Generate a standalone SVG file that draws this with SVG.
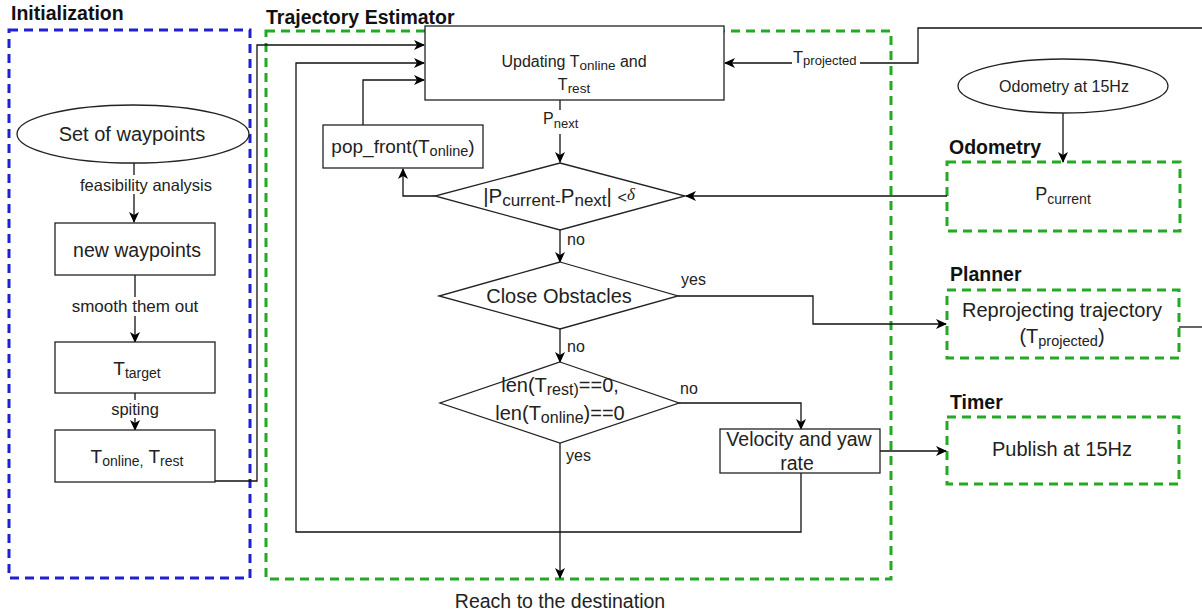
<svg xmlns="http://www.w3.org/2000/svg" width="1202" height="616" viewBox="0 0 1202 616">
<defs>
<marker id="arr" markerUnits="userSpaceOnUse" markerWidth="12" markerHeight="10" refX="10" refY="5" orient="auto">
<path d="M0,0 L11,5 L0,10 L3,5 z" fill="#000"/>
</marker>
<style>
.t{font-family:"Liberation Sans",Arial,sans-serif;fill:#222;}
.b{font-family:"Liberation Sans",Arial,sans-serif;font-weight:bold;fill:#111;font-size:19.5px;}
.box{fill:#fff;stroke:#222;stroke-width:1.3;}
.grp-blue{fill:none;stroke:#2020d0;stroke-width:3;stroke-dasharray:9 6;}
.grp-green{fill:none;stroke:#25a825;stroke-width:3;stroke-dasharray:9 6;}
.c{fill:none;stroke:#111;stroke-width:1.3;}
.ca{fill:none;stroke:#111;stroke-width:1.3;marker-end:url(#arr);}
.lbl{fill:#fff;}
</style>
</defs>
<rect width="1202" height="616" fill="#fff"/>

<g id="containers">
<rect class="grp-blue" x="9" y="30" width="241" height="548"/>
<text class="b" x="11" y="20">Initialization</text>
<rect class="grp-green" x="266" y="31" width="625" height="548"/>
<text class="b" x="266" y="24">Trajectory Estimator</text>
<rect class="grp-green" x="947" y="162" width="233" height="69"/>
<text class="b" x="949" y="154">Odometry</text>
<rect class="grp-green" x="947" y="290" width="232" height="68"/>
<text class="b" x="950" y="281">Planner</text>
<rect class="grp-green" x="947" y="417" width="232" height="67"/>
<text class="b" x="950" y="409">Timer</text>
</g>

<g id="connectors">
<path class="ca" d="M134,163 V222"/>
<path class="ca" d="M135,275 V342"/>
<path class="ca" d="M135,393 V430"/>
<path class="ca" d="M215,481 H257 V45 H424"/>
<path class="ca" d="M560,100 V162"/>
<path class="ca" d="M435,196 H403 V169"/>
<path class="ca" d="M560,230 V262"/>
<path class="ca" d="M678,296 H813 V324 H946"/>
<path class="ca" d="M560,329 V362"/>
<path class="ca" d="M679,403 H801 V429"/>
<path class="ca" d="M560,443 V578"/>
<path class="ca" d="M880,451 H946"/>
<path class="ca" d="M801,473 V532 H296 V63 H424"/>
<path class="ca" d="M363,125 V80 H424"/>
<path class="ca" d="M1063,113 V162"/>
<path class="ca" d="M947,196 H686"/>
<path class="ca" d="M1202,28 H918 V63 H725"/>
<path class="c" d="M1179,327 H1202"/>
<rect class="lbl" x="74" y="175" width="144" height="19"/>
<text class="t" x="146" y="191" font-size="16.5" text-anchor="middle">feasibility analysis</text>
<rect class="lbl" x="68" y="297" width="134" height="19"/>
<text class="t" x="135" y="312" font-size="17" text-anchor="middle">smooth them out</text>
<rect class="lbl" x="108" y="400" width="54" height="18" fill="#f4f4f4"/>
<text class="t" x="135" y="415" font-size="16.5" text-anchor="middle">spiting</text>
<rect class="lbl" x="540" y="110" width="42" height="24"/>
<text class="t" x="543" y="124" font-size="16">P<tspan dy="4" font-size="13">next</tspan></text>
<text class="t" x="567" y="245" font-size="16">no</text>
<text class="t" x="681" y="285" font-size="16">yes</text>
<text class="t" x="567" y="352" font-size="16">no</text>
<text class="t" x="680" y="394" font-size="16">no</text>
<text class="t" x="566" y="461" font-size="16">yes</text>
<rect class="lbl" x="792" y="47" width="68" height="22"/>
<text class="t" x="793" y="63" font-size="16.5">T<tspan dy="2" font-size="13">projected</tspan></text>
</g>

<g id="n-waypoints">
<ellipse cx="133" cy="134" rx="116" ry="29" fill="#fff" stroke="#222" stroke-width="1.3"/>
<text class="t" x="132" y="141" font-size="20" text-anchor="middle">Set of waypoints</text>
</g>
<g id="n-newwaypoints">
<rect class="box" x="55" y="223" width="160" height="52"/>
<text class="t" x="137" y="257" font-size="19.5" text-anchor="middle">new waypoints</text>
</g>
<g id="n-ttarget">
<rect class="box" x="55" y="342" width="160" height="51"/>
<text class="t" x="137" y="375" font-size="19" text-anchor="middle">T<tspan dy="3" font-size="14">target</tspan></text>
</g>
<g id="n-tonline">
<rect class="box" x="55" y="430" width="160" height="52"/>
<text class="t" x="137" y="463" font-size="19" text-anchor="middle">T<tspan dy="3" font-size="14">online,</tspan><tspan dy="-3">  T</tspan><tspan dy="3" font-size="14">rest</tspan></text>
</g>

<g id="n-updating">
<rect class="box" x="425" y="26" width="299" height="74"/>
<text class="t" x="574" y="67" font-size="16" text-anchor="middle">Updating T<tspan dy="3" font-size="13.5">online</tspan><tspan dy="-3">  and</tspan></text>
<text class="t" x="574" y="90" font-size="16" text-anchor="middle">T<tspan dy="3" font-size="13.5">rest</tspan></text>
</g>
<g id="n-popfront">
<rect class="box" x="323" y="125" width="160" height="43"/>
<text class="t" x="403" y="153" font-size="19" text-anchor="middle">pop_front(T<tspan dy="3" font-size="14.5">online</tspan><tspan dy="-3">)</tspan></text>
</g>
<g id="n-dist">
<polygon points="560,163 685,196 560,230 435,196" fill="#fff" stroke="#222" stroke-width="1.3"/>
<text class="t" x="559" y="203" font-size="20.5" text-anchor="middle">|P<tspan dy="3" font-size="17">current-</tspan><tspan dy="-3">P</tspan><tspan dy="3" font-size="17">next</tspan><tspan dy="-3">| </tspan><tspan font-size="16">&lt;</tspan><tspan font-family="Liberation Serif,serif" font-style="italic" font-size="17" dy="-3">δ</tspan></text>
</g>
<g id="n-obstacles">
<polygon points="560,262 678,296 560,329 439,296" fill="#fff" stroke="#222" stroke-width="1.3"/>
<text class="t" x="559" y="303" font-size="20" text-anchor="middle">Close Obstacles</text>
</g>
<g id="n-len">
<polygon points="560,362 679,403 560,443 440,403" fill="#fff" stroke="#222" stroke-width="1.3"/>
<text class="t" x="560" y="392" font-size="20" text-anchor="middle">len(T<tspan dy="3" font-size="16">rest)</tspan><tspan dy="-3">==0,</tspan></text>
<text class="t" x="560" y="420" font-size="20" text-anchor="middle">len(T<tspan dy="3" font-size="16">online</tspan><tspan dy="-3">)==0</tspan></text>
</g>
<g id="n-velocity">
<rect class="box" x="720" y="429" width="160" height="44"/>
<text class="t" x="799" y="446" font-size="19.5" text-anchor="middle">Velocity and yaw</text>
<text class="t" x="797" y="470" font-size="19.5" text-anchor="middle">rate</text>
</g>
<g id="n-reach">
<text class="t" x="560" y="608" font-size="19.5" text-anchor="middle">Reach to the destination</text>
</g>

<g id="n-odomsrc">
<ellipse cx="1063" cy="86" rx="105" ry="27" fill="#fff" stroke="#222" stroke-width="1.3"/>
<text class="t" x="1064" y="92" font-size="16" text-anchor="middle">Odometry at 15Hz</text>
</g>
<g id="n-pcurrent">
<text class="t" x="1063" y="200" font-size="18" text-anchor="middle">P<tspan dy="4" font-size="14">current</tspan></text>
</g>
<g id="n-planner">
<text class="t" x="1062" y="317" font-size="20" text-anchor="middle">Reprojecting trajectory</text>
<text class="t" x="1062" y="343" font-size="20" text-anchor="middle">(T<tspan dy="3" font-size="14.5">projected</tspan><tspan dy="-3">)</tspan></text>
</g>
<g id="n-timer">
<text class="t" x="1062" y="456" font-size="20" text-anchor="middle">Publish at 15Hz</text>
</g>
</svg>
